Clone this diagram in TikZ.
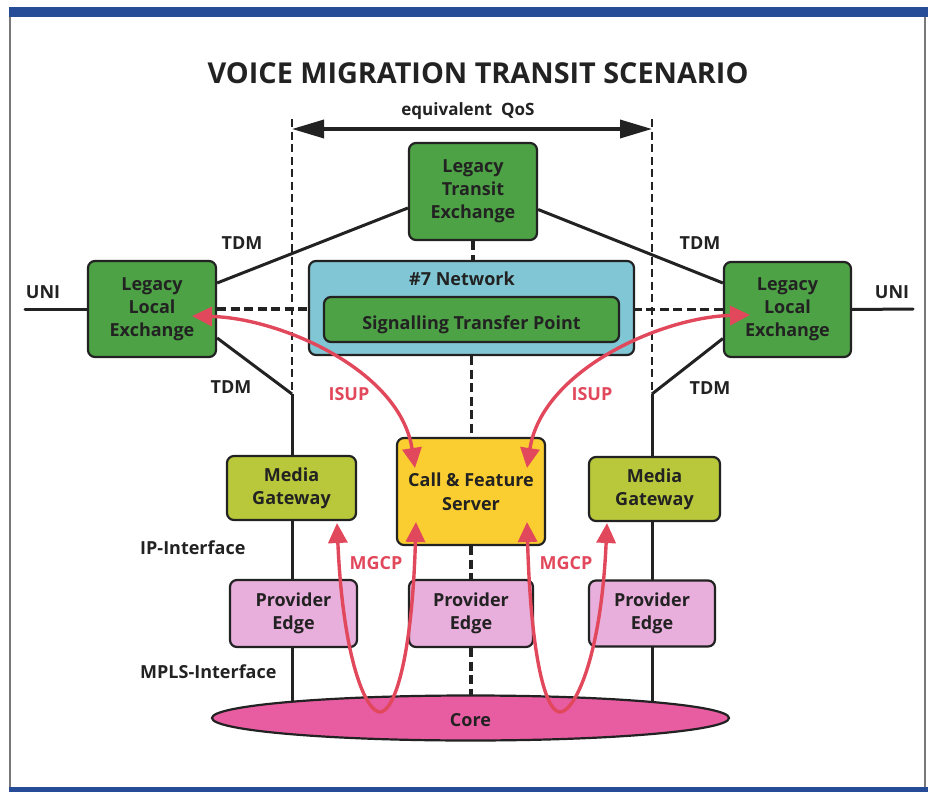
\documentclass[tikz,border=0pt]{standalone}
\usepackage{fontspec}
\setmainfont{Open Sans}
\usetikzlibrary{arrows.meta,shapes.geometric,backgrounds}

\definecolor{framebar}{RGB}{38,76,152}
\definecolor{framegray}{RGB}{120,120,120}
\definecolor{legacygreen}{RGB}{78,162,70}
\definecolor{netcyan}{RGB}{128,198,212}
\definecolor{serveryellow}{RGB}{250,205,48}
\definecolor{gatewaygreen}{RGB}{184,200,58}
\definecolor{edgepink}{RGB}{232,174,220}
\definecolor{corepink}{RGB}{232,92,162}
\definecolor{signalred}{RGB}{226,72,92}
\definecolor{ink}{RGB}{34,34,34}

% struts that lower box text slightly
\newcommand{\boxstrut}{\rule{0pt}{24pt}}
\newcommand{\linestrut}{\rule{0pt}{18pt}}

\tikzset{
  box/.style={draw=ink, line width=2.2pt, rounded corners=7pt, align=center,
    font=\fontsize{18}{23}\selectfont\bfseries, text=ink, inner sep=0pt,
    execute at begin node=\boxstrut},
  legacy/.style={box, fill=legacygreen},
  gateway/.style={box, fill=gatewaygreen},
  edgebox/.style={box, fill=edgepink},
  lbl/.style={font=\fontsize{18}{22}\selectfont\bfseries, text=ink, inner sep=0pt},
  redlbl/.style={font=\fontsize{18}{22}\selectfont\bfseries, text=signalred, inner sep=0pt},
  wire/.style={draw=ink, line width=3pt},
  dashwire/.style={draw=ink, line width=3.2pt, dash pattern=on 9pt off 4.5pt},
  bounddash/.style={draw=ink, line width=2.2pt, dash pattern=on 8pt off 4.5pt},
  signal/.style={draw=signalred, line width=3.4pt,
    {Triangle[length=20pt,width=19pt]}-{Triangle[length=20pt,width=19pt]}},
}

\begin{document}
\begin{tikzpicture}[x=1pt,y=-1pt]
\useasboundingbox (0,0) rectangle (930,792);

% frame
\fill[framebar] (9,7) rectangle (928,17);
\fill[framebar] (9,787) rectangle (928,792);
\draw[framegray, line width=1.4pt] (10,17) -- (10,787);
\draw[framegray, line width=1.4pt] (925,17) -- (925,787);

% title
\node[font=\fontsize{28.8}{32}\selectfont\bfseries, text=ink, inner sep=0pt] (title) at (478,73) {VOICE MIGRATION TRANSIT SCENARIO};

% boxes
\node[legacy, minimum width=128pt, minimum height=97pt] (transit) at (473,191.5) {Legacy\\Transit\\Exchange};
\node[legacy, minimum width=128pt, minimum height=96pt] (lle) at (152,309) {Legacy\\Local\\Exchange};
\node[legacy, minimum width=127pt, minimum height=95pt] (rle) at (787.5,309.5) {Legacy\\Local\\Exchange};
\node[box, fill=netcyan, minimum width=325pt, minimum height=94pt] (net) at (471.5,308) {};
\node[lbl] (netlabel) at (462,279) {\#7 Network};
\node[legacy, minimum width=295pt, minimum height=45pt, execute at begin node=\linestrut] (stp) at (471.5,319.5) {Signalling Transfer Point};
\node[box, fill=serveryellow, minimum width=148pt, minimum height=107pt, font=\fontsize{18}{24}\selectfont\bfseries] (server) at (471,491.5) {Call \& Feature\\Server};
\node[gateway, minimum width=129pt, minimum height=64pt] (mgl) at (291.5,488) {Media\\Gateway};
\node[gateway, minimum width=131pt, minimum height=64pt] (mgr) at (654.5,489) {Media\\Gateway};
\node[edgebox, minimum width=127pt, minimum height=67pt] (pel) at (293.5,613.5) {Provider\\Edge};
\node[edgebox, minimum width=124pt, minimum height=67pt] (pem) at (471,613.5) {Provider\\Edge};
\node[edgebox, minimum width=126pt, minimum height=66pt] (per) at (652,613.5) {Provider\\Edge};
\node[ellipse, draw=ink, line width=2.2pt, fill=corepink, minimum width=517pt, minimum height=45pt, inner sep=0pt,
  font=\fontsize{18}{22}\selectfont\bfseries, text=ink] (core) at (470.5,718) {\linestrut Core};

% reference points of the QoS boundaries
\coordinate (topL) at (292,119);
\coordinate (topR) at (652,119);
\coordinate (joinL) at (292,394);
\coordinate (joinR) at (652,394);
\coordinate (qosL) at (292,129);
\coordinate (qosR) at (652,129);
\coordinate (uniL) at (25,309);
\coordinate (uniR) at (913,309);

\begin{scope}[on background layer]
  % QoS boundaries: dashed above, trunk below
  \draw[bounddash] (topL) -- (joinL);
  \draw[bounddash] (topR) -- (joinR);
  \draw[wire] (joinL) -- (joinL |- core.center);
  \draw[wire] (joinR) -- (joinR |- core.center);
  % signalling links
  \draw[dashwire] (lle.east) -- (lle.east -| net.west);
  \draw[dashwire] (rle.west) -- (rle.west -| net.east);
  \draw[dashwire] (transit.south) -- (transit.south |- net.north);
  \draw[dashwire] (net.south) -- (net.south |- server.north);
  \draw[dashwire] (server.south) -- (server.south |- pem.north);
  \draw[dashwire] (pem.south) -- (pem.south |- core.center);
  % TDM trunks
  \draw[wire] ([yshift=26pt]lle.east) -- ([yshift=-16.5pt]transit.west);
  \draw[wire] ([yshift=-18pt]transit.east) -- ([yshift=26.5pt]rle.west);
  \draw[wire] ([yshift=-29pt]lle.east) -- (joinL);
  \draw[wire] ([yshift=-29pt]rle.west) -- (joinR);
  % subscriber lines
  \draw[wire, line cap=round] (uniL) -- (lle.west);
  \draw[wire, line cap=round] (rle.east) -- (uniR);
\end{scope}

% equivalent QoS span
\draw[draw=ink, line width=3.6pt, {Triangle[length=32pt,width=18pt]}-{Triangle[length=32pt,width=18pt]}] (qosL) -- (qosR);
\node[lbl, font=\fontsize{17}{20}\selectfont\bfseries] (qos) at (468,111) {equivalent\ \ QoS};

% labels
\node[lbl] (tdm1) at (242,243) {TDM};
\node[lbl] (tdm2) at (700,243) {TDM};
\node[lbl] (tdm3) at (231,387) {TDM};
\node[lbl] (tdm4) at (710,388) {TDM};
\node[lbl] (uni1) at (43,292) {UNI};
\node[lbl] (uni2) at (892,292) {UNI};
\node[lbl, anchor=west] (ipif) at (140,548) {IP-Interface};
\node[lbl, anchor=west] (mplsif) at (140,672) {MPLS-Interface};

% signalling arrows
\coordinate (isupLa) at (192,316);
\coordinate (isupLb) at (415,468);
\coordinate (isupRa) at (750,315);
\coordinate (isupRb) at (527,468);
\coordinate (mgcpLa) at (337,523);
\coordinate (mgcpLb) at (416,522);
\coordinate (mgcpRa) at (527,522);
\coordinate (mgcpRb) at (607,523);

\draw[signal] (isupLa) .. controls (280,318) and (400,370) .. (isupLb);
\draw[signal] (isupRa) .. controls (662,317) and (542,370) .. (isupRb);
\draw[signal] (mgcpLa) .. controls (343,660) and (366,712) .. (380,712)
  .. controls (394,712) and (412,660) .. (mgcpLb);
\draw[signal] (mgcpRa) .. controls (531,660) and (546,712) .. (560,712)
  .. controls (574,712) and (601,660) .. (mgcpRb);

\node[redlbl] (isup1) at (349,394) {ISUP};
\node[redlbl] (isup2) at (592,394) {ISUP};
\node[redlbl] (mgcp1) at (376,563) {MGCP};
\node[redlbl] (mgcp2) at (566,563) {MGCP};

\end{tikzpicture}
\end{document}
